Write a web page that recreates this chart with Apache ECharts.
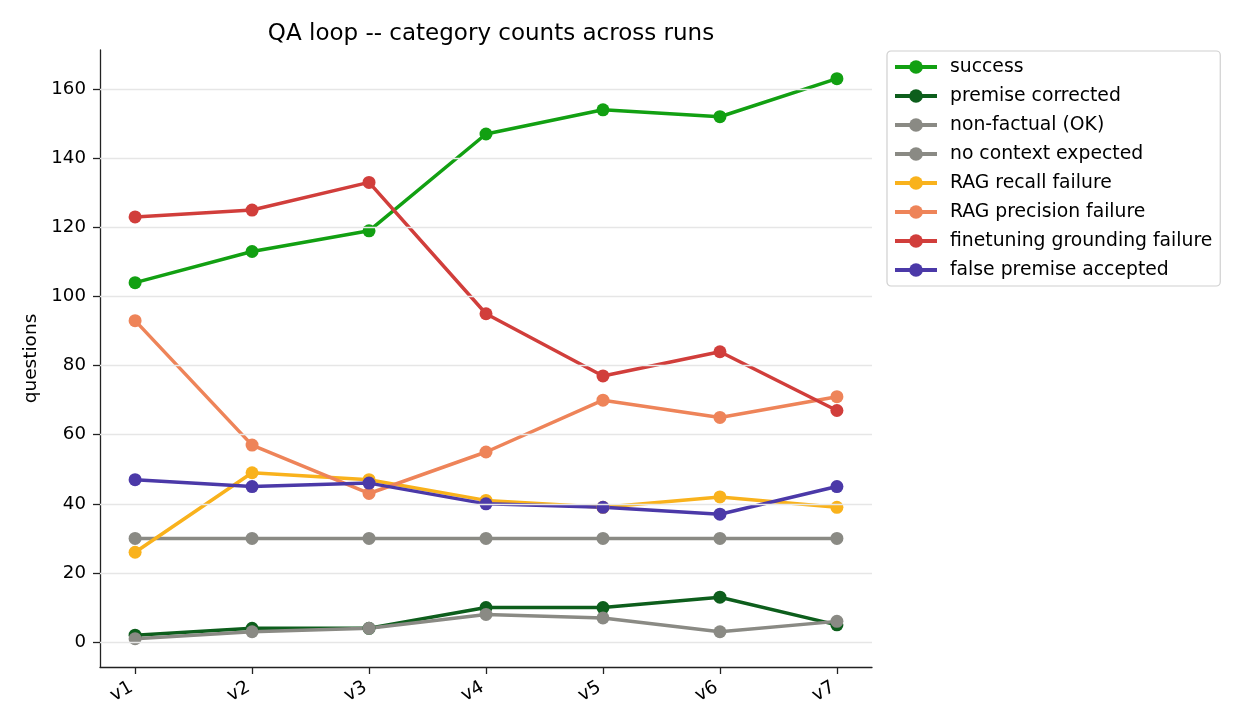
<!DOCTYPE html>
<html>
<head>
<meta charset="utf-8">
<script src="https://cdn.jsdelivr.net/npm/echarts@6/dist/echarts.min.js"></script>
<style>
html, body { margin: 0; padding: 0; background: #fff; }
#chart { width: 1260px; height: 728px; }
</style>
</head>
<body>
<div id="chart"></div>
<script>
// runs
var runs = ['v1', 'v2', 'v3', 'v4', 'v5', 'v6', 'v7'];
var yTicks = [0, 20, 40, 60, 80, 100, 120, 140, 160];

var success = [104, 113, 119, 147, 154, 152, 163];
var premiseCorrected = [2, 4, 4, 10, 10, 13, 5];
var nonFactual = [1, 3, 4, 8, 7, 3, 6];
var noContext = [30, 30, 30, 30, 30, 30, 30];
var ragRecall = [26, 49, 47, 41, 39, 42, 39];
var ragPrecision = [93, 57, 43, 55, 70, 65, 71];
var finetuning = [123, 125, 133, 95, 77, 84, 67];
var falsePremise = [47, 45, 46, 40, 39, 37, 45];

var seriesDefs = [
    { name: 'success', data: success, color: '#12a012' },
    { name: 'premise corrected', data: premiseCorrected, color: '#0d5e1c' },
    { name: 'non-factual (OK)', data: nonFactual, color: '#8a8a84' },
    { name: 'no context expected', data: noContext, color: '#8a8a84' },
    { name: 'RAG recall failure', data: ragRecall, color: '#f9b21c' },
    { name: 'RAG precision failure', data: ragPrecision, color: '#ee8459' },
    { name: 'finetuning grounding failure', data: finetuning, color: '#d13e3b' },
    { name: 'false premise accepted', data: falsePremise, color: '#4b39a8' }
];

var font = 'DejaVu Sans';
var xIdx = runs.map(function (r, i) { return i; });

var series = seriesDefs.map(function (s) {
    return {
        name: s.name,
        type: 'line',
        z: 3,
        symbol: 'circle',
        symbolSize: 13,
        lineStyle: { width: 3.5, color: s.color },
        itemStyle: { color: s.color },
        data: s.data.map(function (v, i) { return [i, v]; })
    };
});
// grid lines
series.unshift({
    name: 'grid',
    type: 'line',
    z: 1,
    data: [],
    silent: true,
    markLine: {
        silent: true,
        symbol: ['none', 'none'],
        label: { show: false },
        lineStyle: { color: '#e6e6e6', width: 1.4, type: 'solid' },
        data: yTicks.map(function (t) { return { yAxis: t }; })
    }
});

var option = {
    backgroundColor: '#fff',
    animation: false,
    title: {
        text: 'QA loop -- category counts across runs',
        left: 486,
        textAlign: 'center',
        top: 18,
        textStyle: { fontFamily: font, fontSize: 23, fontWeight: 'normal', color: '#000' }
    },
    legend: {
        data: seriesDefs.map(function (s) { return s.name; }),
        orient: 'vertical',
        left: 887,
        top: 51,
        padding: [6, 8, 6, 6],
        itemGap: 9,
        itemWidth: 42,
        itemHeight: 17,
        lineStyle: { width: 4 },
        borderColor: '#d0d0d0',
        borderWidth: 1.2,
        borderRadius: 4,
        backgroundColor: '#fff',
        textStyle: { fontFamily: font, fontSize: 18.8, lineHeight: 20, color: '#000', padding: [0, 0, 0, 8] }
    },
    grid: {
        left: 100,
        right: 388,
        top: 50,
        bottom: 61
    },
    xAxis: {
        type: 'value',
        min: -0.3,
        max: 6.3,
        splitLine: { show: false },
        axisLine: { show: true, onZero: false, lineStyle: { color: '#222', width: 1.3 } },
        axisTick: { show: true, length: 7, customValues: xIdx, lineStyle: { color: '#222', width: 1.3 } },
        axisLabel: {
            customValues: xIdx,
            rotate: 30,
            margin: 17,
            padding: [0, 4, 0, 0],
            color: '#000',
            fontFamily: font,
            fontSize: 18.5,
            formatter: function (v) { return runs[Math.round(v)]; }
        }
    },
    yAxis: {
        type: 'value',
        min: -7.2,
        max: 171.3,
        name: 'questions',
        nameLocation: 'middle',
        nameGap: 56,
        nameTextStyle: { fontFamily: font, fontSize: 18.5, color: '#000' },
        splitLine: { show: false },
        axisLine: { show: true, onZero: false, lineStyle: { color: '#222', width: 1.3 } },
        axisTick: { show: true, length: 7, customValues: yTicks, lineStyle: { color: '#222', width: 1.3 } },
        axisLabel: {
            customValues: yTicks,
            margin: 14,
            color: '#000',
            fontFamily: font,
            fontSize: 18.2
        }
    },
    series: series
};

var myChart = echarts.init(document.getElementById('chart'));
myChart.setOption(option);
</script>
</body>
</html>
